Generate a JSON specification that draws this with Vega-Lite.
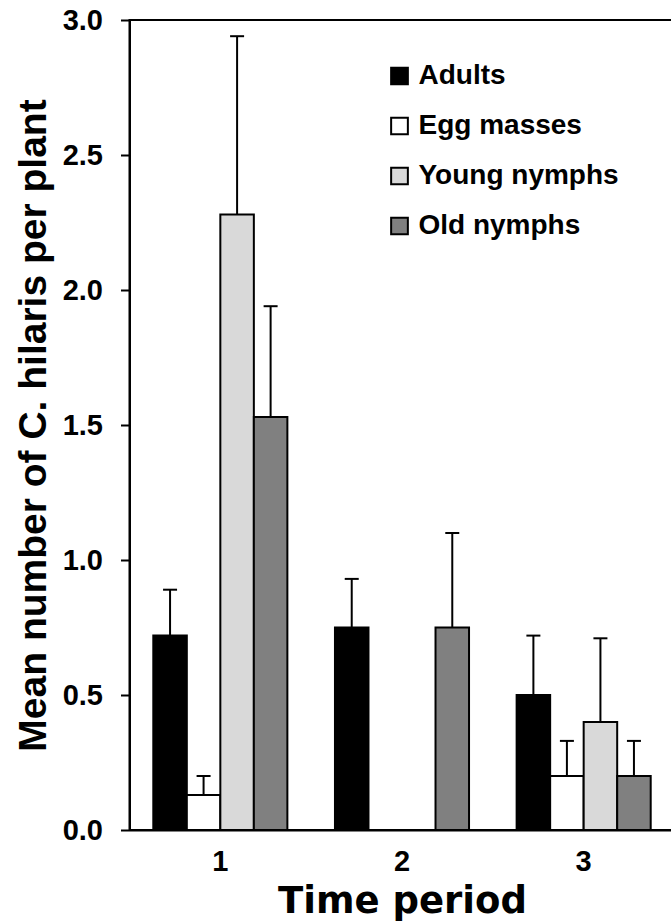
{
  "$schema": "https://vega.github.io/schema/vega-lite/v6.json",
  "width": 545,
  "height": 810,
  "autosize": {"type": "none"},
  "padding": {"left": 129.5, "top": 20, "right": 0, "bottom": 93},
  "background": "white",
  "config": {
    "font": "Liberation Sans",
    "view": {"stroke": "black", "strokeWidth": 2},
    "axis": {
      "domainColor": "black",
      "domainWidth": 2,
      "tickColor": "black",
      "tickWidth": 2,
      "labelColor": "black",
      "titleColor": "black",
      "labelFontWeight": "bold",
      "titleFontWeight": "bold",
      "grid": false
    },
    "legend": {
      "labelFontSize": 28,
      "labelFontWeight": "bold",
      "labelColor": "black",
      "labelLimit": 0,
      "symbolType": "square",
      "symbolSize": 280,
      "symbolStrokeColor": "black",
      "symbolStrokeWidth": 2,
      "rowPadding": 22,
      "labelOffset": 5,
      "padding": 0,
      "offset": 0
    }
  },
  "data": {
    "values": [
      {"period": "1", "stage": "Adults", "mean": 0.72, "upper": 0.89},
      {"period": "1", "stage": "Egg masses", "mean": 0.13, "upper": 0.20},
      {"period": "1", "stage": "Young nymphs", "mean": 2.28, "upper": 2.94},
      {"period": "1", "stage": "Old nymphs", "mean": 1.53, "upper": 1.94},
      {"period": "2", "stage": "Adults", "mean": 0.75, "upper": 0.93},
      {"period": "2", "stage": "Egg masses", "mean": 0, "upper": null},
      {"period": "2", "stage": "Young nymphs", "mean": 0, "upper": null},
      {"period": "2", "stage": "Old nymphs", "mean": 0.75, "upper": 1.10},
      {"period": "3", "stage": "Adults", "mean": 0.50, "upper": 0.72},
      {"period": "3", "stage": "Egg masses", "mean": 0.20, "upper": 0.33},
      {"period": "3", "stage": "Young nymphs", "mean": 0.40, "upper": 0.71},
      {"period": "3", "stage": "Old nymphs", "mean": 0.20, "upper": 0.33}
    ]
  },
  "encoding": {
    "x": {
      "field": "period",
      "type": "nominal",
      "scale": {"paddingInner": 0.262, "paddingOuter": 0.131},
      "axis": {
        "ticks": false,
        "labelAngle": 0,
        "labelFontSize": 29,
        "labelPadding": 17,
        "titleFont": "DejaVu Sans",
        "titleFontSize": 37,
        "titlePadding": 7
      },
      "title": "Time period"
    },
    "xOffset": {
      "field": "stage",
      "type": "nominal",
      "sort": ["Adults", "Egg masses", "Young nymphs", "Old nymphs"],
      "scale": {"paddingInner": 0, "paddingOuter": 0}
    }
  },
  "layer": [
    {
      "mark": {"type": "bar", "stroke": "black", "strokeWidth": 2},
      "encoding": {
        "y": {
          "field": "mean",
          "type": "quantitative",
          "scale": {"domain": [0, 3], "nice": false},
          "axis": {
            "values": [0, 0.5, 1, 1.5, 2, 2.5, 3],
            "format": ".1f",
            "tickSize": 9,
            "labelPadding": 18,
            "labelFontSize": 29,
            "titleFontSize": 39,
            "titlePadding": 9
          },
          "title": "Mean number of C. hilaris per plant"
        },
        "fill": {
          "field": "stage",
          "type": "nominal",
          "sort": ["Adults", "Egg masses", "Young nymphs", "Old nymphs"],
          "scale": {
            "domain": ["Adults", "Egg masses", "Young nymphs", "Old nymphs"],
            "range": ["#000000", "#ffffff", "#d9d9d9", "#808080"]
          },
          "legend": {"title": null, "orient": "none", "legendX": 256, "legendY": 42}
        }
      }
    },
    {
      "transform": [{"filter": "datum.upper != null"}],
      "mark": {"type": "rule", "color": "black", "strokeWidth": 2},
      "encoding": {
        "y": {"field": "mean", "type": "quantitative"},
        "y2": {"field": "upper"}
      }
    },
    {
      "transform": [{"filter": "datum.upper != null"}],
      "mark": {"type": "tick", "color": "black", "thickness": 2, "size": 14, "opacity": 1},
      "encoding": {
        "y": {"field": "upper", "type": "quantitative"}
      }
    }
  ]
}
